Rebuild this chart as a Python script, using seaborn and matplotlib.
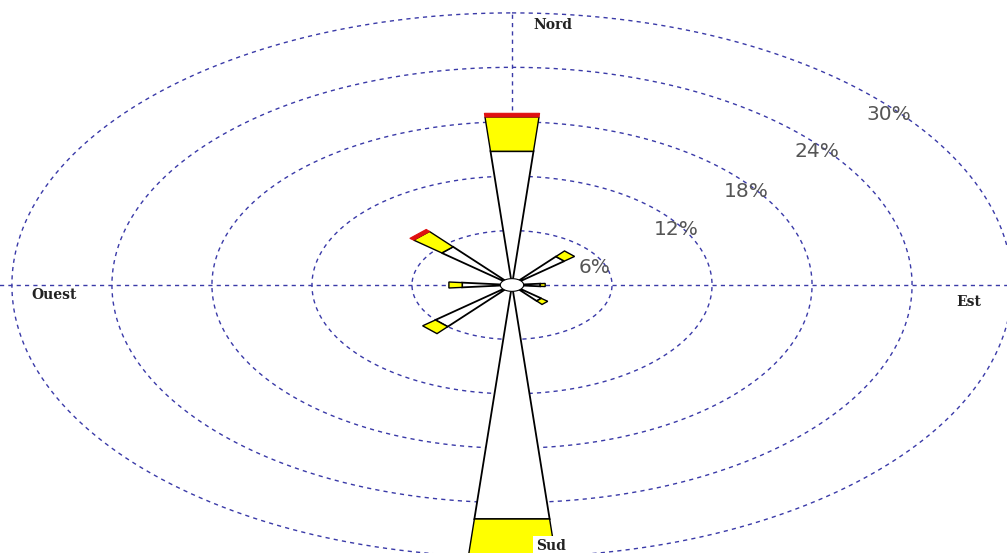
import numpy as np
import matplotlib
matplotlib.use("Agg")
import matplotlib.pyplot as plt
import seaborn as sns

sns.set_theme(style="white")

# Wind directions (degrees, clockwise from north)
directions = [0, 45, 90, 135, 180, 225, 270, 315]
# Frequency (%) per speed class, stacked outward from the centre
calm_part = [14.8, 4.1, 1.7, 2.3, 25.9, 6.0, 3.0, 5.5]
mid_part = [3.8, 0.8, 0.3, 0.5, 4.1, 1.0, 0.8, 2.2]
strong_part = [0.4, 0.0, 0.0, 0.0, 0.0, 0.0, 0.0, 0.3]

ring_values = [6, 12, 18, 24, 30]
ring_labels = ["6%", "12%", "18%", "24%", "30%"]
# label placement (theta in degrees, radius in %)
ring_label_pos = [(69.2, 5.3), (57.9, 11.6), (53.6, 17.45), (51.1, 23.5), (50.2, 29.4)]

cardinals = ["Nord", "Est", "Sud", "Ouest"]

W, H = 1007, 553
fig = plt.figure(figsize=(W / 100, H / 100), dpi=100)
fig.patch.set_facecolor("white")

rmax = 30.5
px_x, px_y = 16.67, 9.07  # pixels per percent
cx, cy = 512, 285
half_w, half_h = rmax * px_x, rmax * px_y
ax = fig.add_axes([(cx - half_w) / W, (H - cy - half_h) / H,
                   2 * half_w / W, 2 * half_h / H], projection="polar")
ax.set_aspect("auto")
ax.set_theta_zero_location("N")
ax.set_theta_direction(-1)
ax.set_ylim(0, rmax)
ax.grid(False)
ax.set_xticklabels([])
ax.set_yticklabels([])
ax.spines["polar"].set_visible(False)
ax.set_facecolor("white")

grid_color = "#3a3aa8"
dash = dict(color=grid_color, lw=1.0, ls=(0, (3, 3)), zorder=1)

# concentric frequency rings
tt = np.linspace(0, 2 * np.pi, 721)
for rv in ring_values:
    ax.plot(tt, np.full_like(tt, rv), **dash)

# cross axes
ax.plot([0, 0], [0, 30], **dash)
ax.plot([np.pi, np.pi], [0, 30], **dash)
ax.plot([np.pi / 2, np.pi / 2], [0, 30.8], clip_on=False, **dash)
ax.plot([3 * np.pi / 2, 3 * np.pi / 2], [0, 30.8], clip_on=False, **dash)

theta = np.deg2rad(directions)
width = np.deg2rad(10)
calm = np.array(calm_part)
mid = np.array(mid_part)
strong = np.array(strong_part)

bars = []
bars += list(ax.bar(theta, calm, width=width, bottom=0, color="white",
                    edgecolor="black", linewidth=1.3, zorder=3))
bars += list(ax.bar(theta, mid, width=width, bottom=calm, color="#ffff00",
                    edgecolor="black", linewidth=1.0, zorder=3))
mask = strong > 0
bars += list(ax.bar(theta[mask], strong[mask], width=width, bottom=(calm + mid)[mask],
                    color="#e01010", edgecolor="#e01010", linewidth=0.8, zorder=4))
# straight (chord) ends on the wedges
for b in bars:
    b.get_path()._interpolation_steps = 1

# hub
ax.fill(tt, np.full_like(tt, 0.7), facecolor="white", edgecolor="black",
        linewidth=0.8, zorder=5)

for lab, (th, r) in zip(ring_labels, ring_label_pos):
    ax.text(np.deg2rad(th), r, lab, ha="center", va="center",
            fontsize=14.5, color="#555555", family="DejaVu Sans", zorder=6)

card_font = dict(fontsize=10, fontweight="bold", family="DejaVu Serif",
                 color="#222222")
fig.text(553 / W, 1 - 25 / H, cardinals[0], ha="center", va="center", **card_font)
fig.text(969 / W, 1 - 302 / H, cardinals[1], ha="center", va="center", **card_font)
fig.text(551 / W, 1 - 546 / H, cardinals[2], ha="center", va="center",
         bbox=dict(facecolor="white", edgecolor="none", pad=2), zorder=10, **card_font)
fig.text(54 / W, 1 - 295 / H, cardinals[3], ha="center", va="center", **card_font)

fig.savefig("out.png", dpi=100, facecolor="white")
